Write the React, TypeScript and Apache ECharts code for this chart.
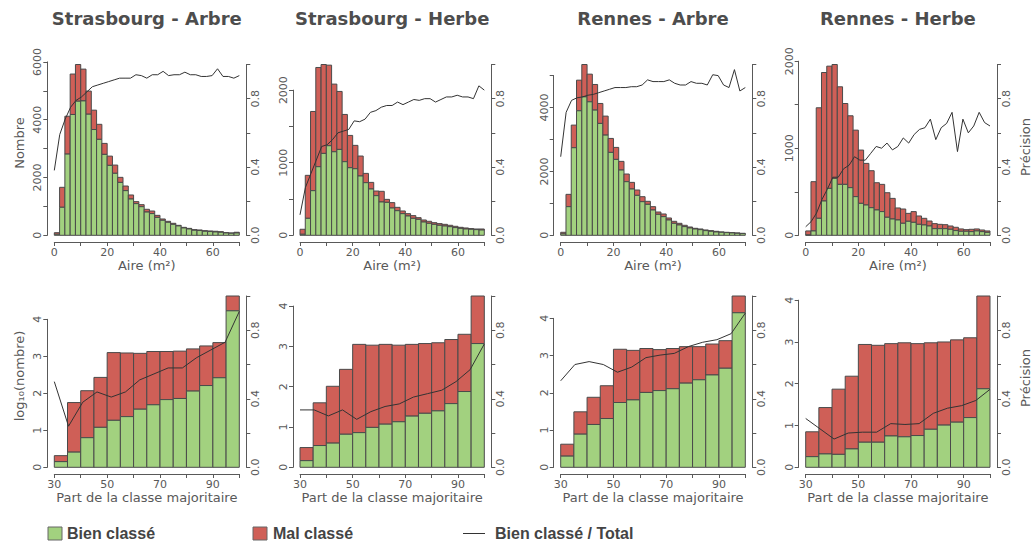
import React, { useEffect, useRef } from "react";
import * as echarts from "echarts";

// ---------- categories ----------
const panelTitles = ["Strasbourg - Arbre", "Strasbourg - Herbe", "Rennes - Arbre", "Rennes - Herbe"];
const areaBinStarts = [0, 2, 4, 6, 8, 10, 12, 14, 16, 18, 20, 22, 24, 26, 28, 30, 32, 34, 36, 38, 40, 42, 44, 46, 48, 50, 52, 54, 56, 58, 60, 62, 64, 66, 68];
const areaBinWidth = 2;
const shareBinStarts = [30, 35, 40, 45, 50, 55, 60, 65, 70, 75, 80, 85, 90, 95];
const shareBinWidth = 5;

// ---------- Strasbourg - Arbre (aire) ----------
const sbgArbreTotal = [90, 1660, 4120, 5580, 5910, 5750, 4990, 4330, 3840, 3180, 2740, 2430, 2005, 1705, 1395, 1165, 1060, 900, 840, 690, 565, 485, 415, 345, 275, 240, 195, 185, 160, 150, 140, 125, 90, 80, 105];
const sbgArbreBien = [35, 970, 2810, 4180, 4640, 4650, 4190, 3660, 3320, 2800, 2420, 2145, 1830, 1545, 1255, 1095, 990, 805, 750, 620, 520, 450, 380, 325, 255, 220, 175, 165, 140, 130, 115, 105, 80, 70, 80];
const sbgArbrePrec = [0.38, 0.59, 0.68, 0.75, 0.79, 0.81, 0.84, 0.87, 0.88, 0.89, 0.9, 0.91, 0.92, 0.92, 0.92, 0.94, 0.935, 0.92, 0.94, 0.94, 0.96, 0.935, 0.94, 0.94, 0.955, 0.94, 0.94, 0.93, 0.93, 0.935, 0.975, 0.93, 0.93, 0.92, 0.935];

// ---------- Strasbourg - Herbe (aire) ----------
const sbgHerbeTotal = [83, 826, 1706, 2312, 2353, 2344, 2083, 1982, 1665, 1376, 1239, 1092, 853, 729, 610, 606, 495, 450, 385, 335, 298, 271, 243, 211, 193, 174, 161, 151, 138, 124, 110, 101, 92, 87, 87];
const sbgHerbeBien = [14, 234, 615, 945, 1128, 1234, 1151, 1183, 1014, 931, 917, 817, 725, 638, 546, 459, 454, 376, 339, 298, 266, 234, 220, 183, 165, 151, 138, 128, 119, 106, 96, 87, 83, 78, 73];
const sbgHerbePrec = [0.12, 0.28, 0.36, 0.44, 0.52, 0.53, 0.56, 0.6, 0.61, 0.62, 0.67, 0.665, 0.68, 0.72, 0.73, 0.75, 0.76, 0.76, 0.78, 0.765, 0.78, 0.795, 0.79, 0.8, 0.8, 0.78, 0.795, 0.81, 0.81, 0.82, 0.81, 0.81, 0.8, 0.875, 0.85];

// ---------- Rennes - Arbre (aire) ----------
const renArbreTotal = [94, 1281, 3448, 4854, 5344, 5042, 4719, 4125, 3729, 3031, 2750, 2313, 1917, 1656, 1417, 1208, 1063, 896, 729, 667, 542, 438, 375, 313, 260, 219, 198, 167, 146, 125, 104, 94, 83, 73, 63];
const renArbreBien = [43, 896, 2740, 3896, 4333, 4177, 3917, 3500, 3135, 2594, 2375, 2042, 1677, 1448, 1250, 1052, 969, 792, 656, 583, 479, 375, 323, 271, 229, 198, 177, 146, 125, 104, 94, 83, 73, 63, 52];
const renArbrePrec = [0.46, 0.72, 0.79, 0.805, 0.81, 0.82, 0.825, 0.835, 0.845, 0.855, 0.865, 0.865, 0.865, 0.87, 0.87, 0.88, 0.91, 0.9, 0.9, 0.9, 0.91, 0.89, 0.88, 0.88, 0.9, 0.89, 0.89, 0.88, 0.94, 0.935, 0.88, 0.865, 0.97, 0.845, 0.865];

// ---------- Rennes - Herbe (aire) ----------
const renHerbeTotal = [50, 616, 1465, 1870, 1943, 1962, 1706, 1514, 1373, 1208, 979, 826, 742, 604, 585, 489, 424, 314, 302, 252, 272, 222, 195, 164, 134, 126, 122, 107, 92, 73, 65, 69, 73, 61, 50];
const renHerbeBien = [4, 50, 195, 394, 539, 654, 585, 585, 547, 444, 367, 348, 317, 291, 272, 207, 187, 176, 138, 161, 149, 126, 119, 107, 76, 76, 76, 69, 54, 46, 46, 42, 50, 42, 34];
const renHerbePrec = [0.05, 0.08, 0.13, 0.21, 0.27, 0.34, 0.34, 0.39, 0.41, 0.46, 0.44, 0.44, 0.48, 0.52, 0.51, 0.54, 0.5, 0.52, 0.57, 0.54, 0.59, 0.62, 0.63, 0.68, 0.56, 0.63, 0.655, 0.72, 0.49, 0.68, 0.6, 0.64, 0.72, 0.66, 0.64];

// ---------- part de la classe majoritaire (log10 nombre) ----------
const sbgArbreLogTotal = [0.315, 1.75, 2.07, 2.43, 3.1, 3.09, 3.08, 3.13, 3.13, 3.14, 3.2, 3.28, 3.37, 4.63];
const sbgArbreLogBien = [0.153, 0.41, 0.8, 1.08, 1.27, 1.37, 1.57, 1.69, 1.83, 1.86, 2.06, 2.21, 2.42, 4.23];
const sbgArbreSharePrec = [0.5, 0.24, 0.38, 0.44, 0.41, 0.44, 0.51, 0.545, 0.58, 0.58, 0.64, 0.685, 0.73, 0.91];

const sbgHerbeLogTotal = [0.49, 1.6, 2.01, 2.43, 3.05, 3.03, 3.05, 3.03, 3.05, 3.07, 3.09, 3.17, 3.3, 4.25];
const sbgHerbeLogBien = [0.165, 0.54, 0.6, 0.82, 0.86, 0.99, 1.07, 1.13, 1.27, 1.34, 1.4, 1.58, 1.88, 3.07];
const sbgHerbeSharePrec = [0.335, 0.335, 0.3, 0.335, 0.28, 0.325, 0.355, 0.37, 0.41, 0.43, 0.45, 0.5, 0.57, 0.72];

const renArbreLogTotal = [0.62, 1.49, 1.88, 2.19, 3.17, 3.14, 3.19, 3.16, 3.19, 3.24, 3.24, 3.31, 3.4, 4.6];
const renArbreLogBien = [0.3, 0.89, 1.15, 1.31, 1.74, 1.81, 2.01, 2.06, 2.11, 2.26, 2.35, 2.48, 2.66, 4.15];
const renArbreSharePrec = [0.505, 0.6, 0.617, 0.6, 0.555, 0.585, 0.64, 0.655, 0.665, 0.705, 0.73, 0.745, 0.78, 0.9];

const renHerbeLogTotal = [0.85, 1.43, 1.87, 2.18, 2.94, 2.92, 2.96, 2.98, 2.96, 2.98, 3.0, 3.05, 3.1, 4.1];
const renHerbeLogBien = [0.255, 0.32, 0.31, 0.44, 0.6, 0.6, 0.75, 0.73, 0.76, 0.91, 1.01, 1.08, 1.19, 1.88];
const renHerbeSharePrec = [0.285, 0.225, 0.165, 0.2, 0.205, 0.205, 0.255, 0.25, 0.255, 0.315, 0.345, 0.36, 0.39, 0.455];

// ---------- axis tick definitions ----------
const leftAxisMax = [6000, 2000, 5000, 2000, 4, 4, 4, 4];
const leftAxisStep = [1000, 500, 1000, 500, 1, 1, 1, 1];
const leftLabelStep = [2000, 1000, 2000, 1000, 1, 1, 1, 1];
const rightAxisTicks = { min: 0, max: 1, step: 0.2 };

// ---------- layout / style ----------
const panelLeft = [54.3, 300, 560.7, 805.7];
const panelRight = [239.3, 484.3, 745.3, 990];
const rowZeroY = [235.3, 467.3];
const rowOneY = [64.5, 296];
const GREEN = "#a2d17f";
const RED = "#cf5f57";
const BORDER = "#4a4a4a";
const AXIS = "#595959";
const FONT = "DejaVu Sans";

type Panel = { starts: number[]; width: number; total: number[]; bien: number[]; prec: number[]; xName: string };

const panels: Panel[] = [
  { starts: areaBinStarts, width: areaBinWidth, total: sbgArbreTotal, bien: sbgArbreBien, prec: sbgArbrePrec, xName: "Aire (m²)" },
  { starts: areaBinStarts, width: areaBinWidth, total: sbgHerbeTotal, bien: sbgHerbeBien, prec: sbgHerbePrec, xName: "Aire (m²)" },
  { starts: areaBinStarts, width: areaBinWidth, total: renArbreTotal, bien: renArbreBien, prec: renArbrePrec, xName: "Aire (m²)" },
  { starts: areaBinStarts, width: areaBinWidth, total: renHerbeTotal, bien: renHerbeBien, prec: renHerbePrec, xName: "Aire (m²)" },
  { starts: shareBinStarts, width: shareBinWidth, total: sbgArbreLogTotal, bien: sbgArbreLogBien, prec: sbgArbreSharePrec, xName: "Part de la classe majoritaire" },
  { starts: shareBinStarts, width: shareBinWidth, total: sbgHerbeLogTotal, bien: sbgHerbeLogBien, prec: sbgHerbeSharePrec, xName: "Part de la classe majoritaire" },
  { starts: shareBinStarts, width: shareBinWidth, total: renArbreLogTotal, bien: renArbreLogBien, prec: renArbreSharePrec, xName: "Part de la classe majoritaire" },
  { starts: shareBinStarts, width: shareBinWidth, total: renHerbeLogTotal, bien: renHerbeLogBien, prec: renHerbeSharePrec, xName: "Part de la classe majoritaire" },
];

function buildOption() {
  const grid: any[] = [];
  const xAxis: any[] = [];
  const yAxis: any[] = [];
  const series: any[] = [];
  const graphic: any[] = [];
  const labelBase = { color: AXIS, fontSize: 11, fontFamily: FONT };

  panels.forEach((pn, p) => {
    const col = p % 4;
    const row = Math.floor(p / 4);
    const x0 = panelLeft[col];
    const x1 = panelRight[col];
    const zero = rowZeroY[row];
    const one = rowOneY[row];
    const plotH = zero - one;
    const maxT = Math.max(...pn.total);
    const leftH = (plotH * leftAxisMax[p]) / maxT;
    const xMin = pn.starts[0];
    const xMax = pn.starts[pn.starts.length - 1] + pn.width;
    const gi = 2 * p;
    const gl = 2 * p + 1;

    grid.push({ left: x0, top: zero - leftH, width: x1 - x0, height: leftH });
    grid.push({ left: x0, top: one, width: x1 - x0, height: plotH });

    xAxis.push({
      gridIndex: gi,
      type: "value",
      min: xMin,
      max: xMax,
      interval: 10,
      position: "bottom",
      offset: 6.7,
      axisLine: { show: true, onZero: false, lineStyle: { color: AXIS, width: 1 } },
      axisTick: { show: true, length: 4, lineStyle: { color: AXIS } },
      axisLabel: { ...labelBase, margin: 5, formatter: (v: number) => ((v - xMin) % 20 === 0 ? String(v) : "") },
      splitLine: { show: false },
      name: pn.xName,
      nameLocation: "middle",
      nameGap: 17,
      nameTextStyle: { color: AXIS, fontSize: 13, fontFamily: FONT },
    });
    xAxis.push({
      gridIndex: gl,
      type: "category",
      boundaryGap: false,
      data: pn.starts.map((s) => String(s)),
      show: false,
    });

    const lstep = leftLabelStep[p];
    yAxis.push({
      gridIndex: gi,
      type: "value",
      min: 0,
      max: leftAxisMax[p],
      interval: leftAxisStep[p],
      position: "left",
      offset: 7,
      axisLine: { show: true, onZero: false, lineStyle: { color: AXIS, width: 1 } },
      axisTick: { show: true, length: 4, lineStyle: { color: AXIS } },
      axisLabel: { ...labelBase, rotate: 90, margin: 4, formatter: (v: number) => (Math.round(v) % lstep === 0 ? String(v) : "") },
      splitLine: { show: false },
    });
    yAxis.push({
      gridIndex: gl,
      type: "value",
      min: rightAxisTicks.min,
      max: rightAxisTicks.max,
      interval: rightAxisTicks.step,
      position: "right",
      offset: 7,
      axisLine: { show: true, onZero: false, lineStyle: { color: AXIS, width: 1 } },
      axisTick: { show: true, length: 4, lineStyle: { color: AXIS } },
      axisLabel: { ...labelBase, rotate: 90, margin: 4, formatter: (v: number) => (Math.round(v * 10) % 4 === 0 ? v.toFixed(1) : "") },
      splitLine: { show: false },
    });

    series.push({
      type: "custom",
      name: "Bien classé / Mal classé",
      xAxisIndex: gi,
      yAxisIndex: gi,
      clip: false,
      encode: { x: [0, 1], y: [2, 3] },
      data: pn.starts.map((s, i) => [s, s + pn.width, pn.bien[i], pn.total[i]]),
      renderItem: (params: any, api: any) => {
        const a = api.value(0);
        const b = api.value(1);
        const g = api.value(2);
        const t = api.value(3);
        const p0 = api.coord([a, 0]);
        const pg = api.coord([b, g]);
        const pt = api.coord([b, t]);
        const w = pg[0] - p0[0];
        return {
          type: "group",
          children: [
            {
              type: "rect",
              shape: { x: p0[0], y: pt[1], width: w, height: pg[1] - pt[1] },
              style: { fill: RED, stroke: BORDER, lineWidth: 1 },
            },
            {
              type: "rect",
              shape: { x: p0[0], y: pg[1], width: w, height: p0[1] - pg[1] },
              style: { fill: GREEN, stroke: BORDER, lineWidth: 1 },
            },
          ],
        };
      },
    });
    series.push({
      type: "line",
      name: "Bien classé / Total",
      xAxisIndex: gl,
      yAxisIndex: gl,
      data: pn.prec,
      symbol: "none",
      lineStyle: { color: "#333333", width: 1 },
      z: 5,
    });

    if (row === 0) {
      graphic.push({
        type: "text",
        x: (x0 + x1) / 2,
        y: 18,
        style: { text: panelTitles[col], font: `bold 18px "${FONT}"`, fill: "#4d4d4d", textAlign: "center", textVerticalAlign: "middle" },
      });
    }
  });

  const yName = (text: string, x: number, y: number) => ({
    type: "text",
    x,
    y,
    rotation: Math.PI / 2,
    style: { text, font: `13px "${FONT}"`, fill: AXIS, textAlign: "center", textVerticalAlign: "middle" },
  });
  graphic.push(yName("Nombre", 19, 143));
  graphic.push(yName("log₁₀(nombre)", 19, 376));
  graphic.push(yName("Précision", 1025, 147));
  graphic.push(yName("Précision", 1025, 378));

  const legFont = 'bold 16px "Liberation Sans"';
  graphic.push({ type: "rect", shape: { x: 48, y: 527, width: 14, height: 13 }, style: { fill: GREEN, stroke: "#666", lineWidth: 1 } });
  graphic.push({ type: "text", x: 67, y: 533.5, style: { text: "Bien classé", font: legFont, fill: "#444", textAlign: "left", textVerticalAlign: "middle" } });
  graphic.push({ type: "rect", shape: { x: 253, y: 527, width: 14, height: 13 }, style: { fill: RED, stroke: "#666", lineWidth: 1 } });
  graphic.push({ type: "text", x: 273, y: 533.5, style: { text: "Mal classé", font: legFont, fill: "#444", textAlign: "left", textVerticalAlign: "middle" } });
  graphic.push({ type: "line", shape: { x1: 463, y1: 533.5, x2: 485, y2: 533.5 }, style: { stroke: "#333", lineWidth: 1 } });
  graphic.push({ type: "text", x: 495, y: 533.5, style: { text: "Bien classé / Total", font: legFont, fill: "#444", textAlign: "left", textVerticalAlign: "middle" } });

  return {
    animation: false,
    backgroundColor: "#ffffff",
    grid,
    xAxis,
    yAxis,
    series,
    graphic,
  };
}

export default function App() {
  const ref = useRef<HTMLDivElement>(null);
  useEffect(() => {
    if (!ref.current) return;
    const chart = echarts.init(ref.current, null, { renderer: "svg" });
    chart.setOption(buildOption() as any);
    return () => chart.dispose();
  }, []);
  return (
    <div
      ref={ref}
      style={{ position: "absolute", left: 0, top: 0, width: 1034, height: 542, background: "#fff" }}
    />
  );
}
